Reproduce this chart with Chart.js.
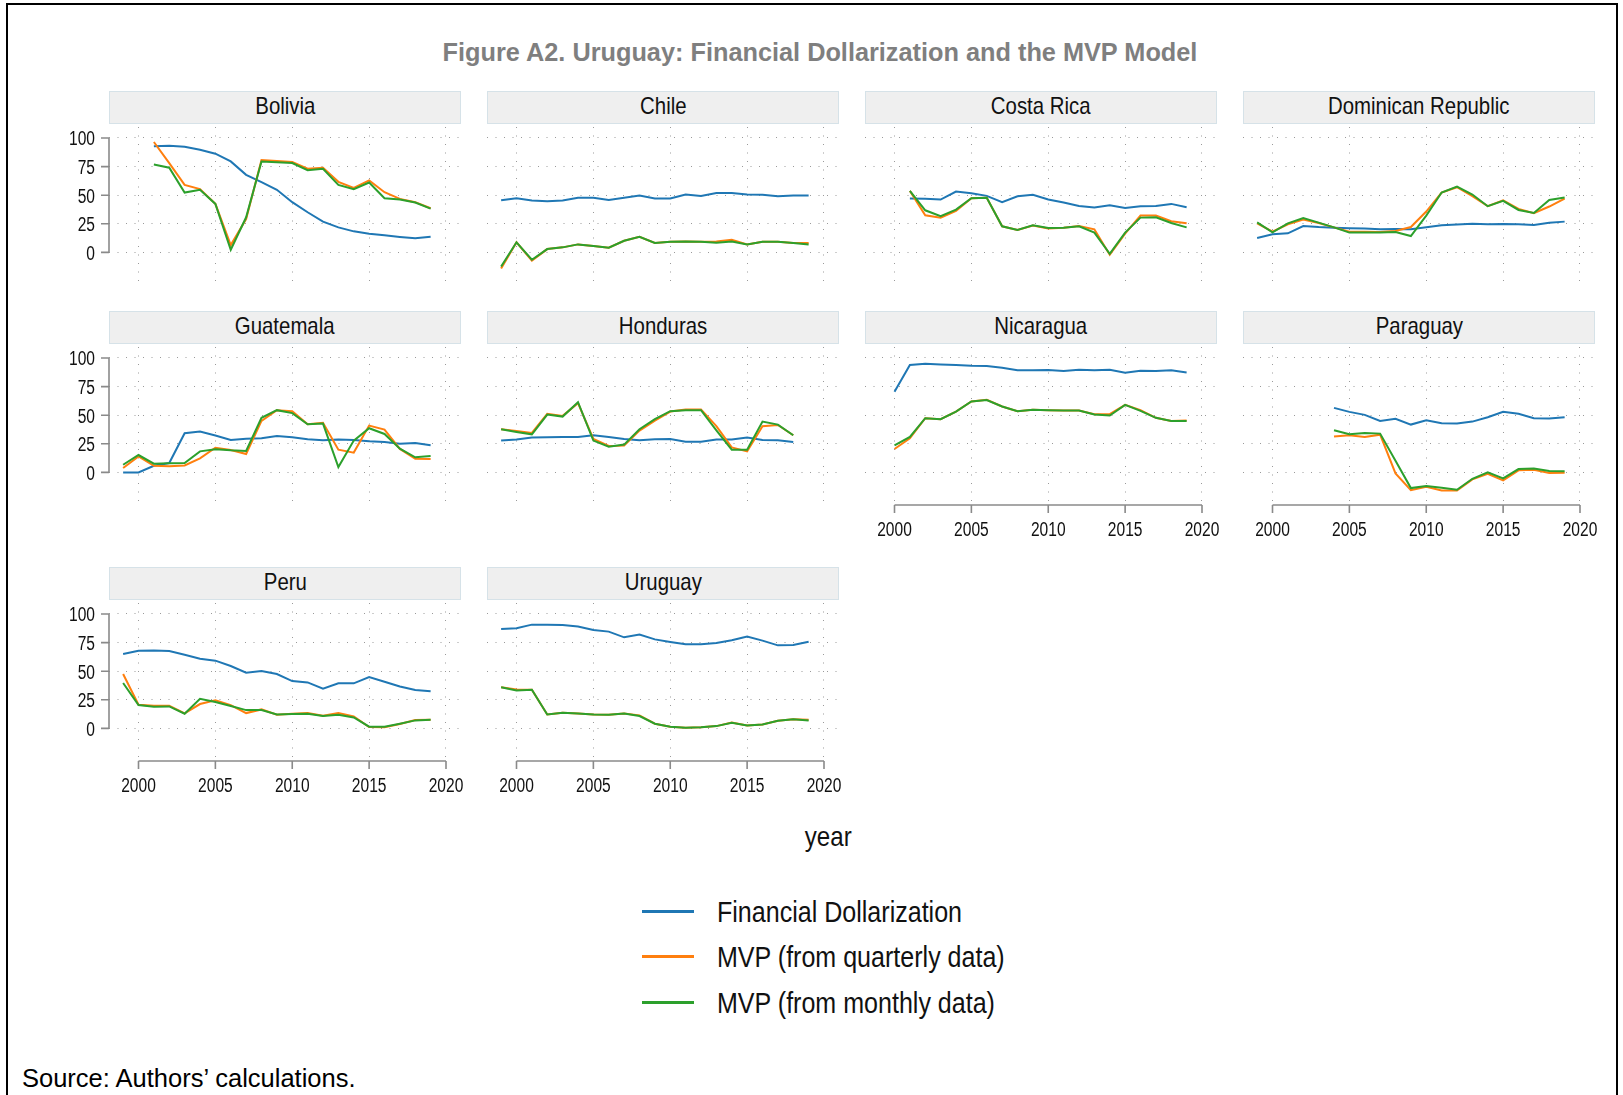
<!DOCTYPE html>
<html>
<head>
<meta charset="utf-8">
<script src="https://cdn.jsdelivr.net/npm/chart.js@4.4.0/dist/chart.umd.min.js"></script>
<style>
  html, body { margin: 0; padding: 0; background: #fff; }
  #page { position: relative; width: 1623px; height: 1095px; overflow: hidden; background: #fff; }
  .frame { position: absolute; left: 6px; top: 3px; width: 1612px; height: 1200px; border: 2px solid #000; box-sizing: border-box; }
  .title { position: absolute; left: 0; width: 1640px; top: 38px; text-align: center;
           font: bold 25.3px 'Liberation Sans', Arial, sans-serif; color: #7f7f7f; white-space: nowrap; }
  .strip { position: absolute; background: #efefef; border: 1px solid #d6e2e8; box-sizing: border-box;
           text-align: center; font: 24px 'Liberation Sans', Arial, sans-serif; color: #111; white-space: nowrap; }
  .strip span { display: inline-block; transform: scaleX(0.85); transform-origin: 50% 50%; }
  canvas.panel { position: absolute; }
  .xtitle { position: absolute; left: 728px; width: 200px; top: 821px; text-align: center;
            font: 28px 'Liberation Sans', Arial, sans-serif; color: #111; }
  .xtitle span { display: inline-block; transform: scaleX(0.86); transform-origin: 50% 50%; }
  .legline { position: absolute; left: 642px; width: 52px; height: 3px; }
  .legtext { position: absolute; left: 717px; font: 30px 'Liberation Sans', Arial, sans-serif; color: #111; white-space: nowrap;
             line-height: 34px; transform: scaleX(0.835); transform-origin: 0 50%; }
  .source { position: absolute; left: 22px; top: 1064px; font: 25.5px 'Liberation Sans', Arial, sans-serif; color: #000; white-space: nowrap; }
</style>
</head>
<body>
<div id="page">
  <div class="frame"></div>
  <div class="title">Figure A2. Uruguay: Financial Dollarization and the MVP Model</div>
  <div class="xtitle"><span>year</span></div>
  <div class="source">Source: Authors’ calculations.</div>
</div>
<script>
// ---------------- DATA ----------------
const countries = ["Bolivia", "Chile", "Costa Rica", "Dominican Republic", "Guatemala",
                   "Honduras", "Nicaragua", "Paraguay", "Peru", "Uruguay"];
const seriesNames = ["Financial Dollarization", "MVP (from quarterly data)", "MVP (from monthly data)"];
const xTickLabels = [2000, 2005, 2010, 2015, 2020];
const yTickLabels = [0, 25, 50, 75, 100];
const startYears = [2001, 1999, 2001, 1999, 1999, 1999, 2000, 2004, 1999, 1999];

const boliviaFD = [92.7, 93.3, 92.4, 89.8, 86.3, 79.5, 67.8, 61.4, 54.7, 43.9, 35.1, 26.9, 21.9, 18.4, 16.4, 14.9, 13.5, 12.3, 13.7];
const boliviaQ  = [96.5, 78.0, 59.0, 55.3, 42.4, 6.4, 29.2, 80.7, 79.8, 79.0, 73.1, 74.0, 61.7, 56.4, 62.9, 52.6, 46.8, 43.9, 38.6];
const boliviaM  = [76.9, 74.0, 52.3, 54.7, 42.4, 2.3, 30.7, 79.5, 78.7, 78.1, 71.9, 73.1, 59.0, 55.3, 61.1, 47.4, 46.2, 43.6, 38.3];

const chileFD = [45.6, 47.4, 45.3, 44.7, 45.3, 47.7, 47.7, 45.9, 47.7, 49.7, 47.1, 47.1, 50.6, 49.4, 52.0, 52.0, 50.6, 50.3, 49.1, 49.7, 49.7];
const chileQ  = [-14.0, 8.8, -7.3, 2.9, 4.4, 7.0, 5.6, 4.1, 10.2, 13.7, 8.2, 9.4, 9.6, 9.4, 9.6, 11.1, 7.0, 9.4, 9.4, 8.2, 8.2];
const chileM  = [-12.3, 8.8, -6.4, 2.9, 4.4, 7.0, 5.6, 4.1, 10.2, 13.7, 8.2, 9.4, 9.6, 9.4, 8.5, 9.6, 7.0, 9.4, 9.4, 8.2, 7.0];

const costaRicaFD = [47.1, 46.8, 46.2, 53.2, 51.8, 49.4, 43.9, 49.1, 50.3, 46.2, 43.6, 40.6, 39.2, 41.2, 38.9, 40.4, 40.6, 42.4, 39.5];
const costaRicaQ  = [53.8, 32.5, 30.4, 36.3, 47.4, 47.7, 22.8, 19.6, 23.4, 21.0, 21.6, 23.1, 20.2, -2.0, 16.4, 32.2, 32.2, 27.2, 25.4];
const costaRicaM  = [53.8, 36.8, 31.6, 37.4, 47.4, 47.7, 22.8, 19.6, 23.7, 21.3, 21.6, 22.8, 17.3, -1.2, 17.3, 30.4, 30.7, 25.7, 21.9];

const dominicanFD = [12.6, 15.8, 16.7, 23.1, 22.2, 21.6, 21.1, 20.8, 20.2, 20.5, 20.2, 21.9, 23.7, 24.3, 25.1, 24.6, 24.9, 24.6, 24.0, 26.0, 26.9];
const dominicanQ  = [25.4, 18.1, 24.6, 28.7, 25.7, 21.9, 18.1, 18.1, 17.8, 18.7, 22.2, 35.7, 52.3, 57.0, 49.1, 40.4, 45.6, 38.0, 34.2, 40.1, 47.1];
const dominicanM  = [26.3, 17.5, 25.4, 30.1, 26.0, 21.9, 17.3, 17.3, 17.3, 17.8, 14.3, 32.2, 52.3, 57.6, 50.6, 40.4, 45.0, 37.1, 34.5, 45.9, 48.0];

const guatemalaFD = [0.0, 0.0, 5.8, 8.2, 34.2, 35.7, 32.2, 28.4, 29.5, 29.8, 31.9, 30.7, 28.9, 28.1, 28.7, 28.4, 27.2, 26.6, 25.1, 25.7, 23.7];
const guatemalaQ  = [3.8, 14.0, 5.8, 5.3, 6.1, 12.3, 21.6, 19.6, 16.1, 45.0, 54.4, 53.5, 42.1, 43.3, 19.9, 17.3, 40.9, 37.4, 20.5, 12.0, 11.7];
const guatemalaM  = [6.7, 15.2, 7.6, 7.9, 8.2, 18.4, 20.2, 19.3, 18.7, 47.7, 54.4, 51.8, 42.1, 42.7, 4.7, 27.8, 38.6, 33.6, 20.8, 13.2, 14.3];

const hondurasFD = [27.8, 28.7, 30.4, 30.7, 31.0, 31.0, 32.5, 31.0, 29.2, 28.1, 28.9, 29.2, 26.9, 26.9, 28.7, 28.7, 30.4, 28.4, 28.1, 26.6];
const hondurasQ  = [37.7, 36.3, 34.5, 51.2, 49.4, 60.5, 29.2, 23.1, 23.4, 36.5, 45.3, 53.2, 55.0, 55.0, 40.4, 21.9, 18.4, 40.4, 41.5, 32.5];
const hondurasM  = [37.7, 35.4, 33.3, 50.6, 48.8, 61.4, 27.8, 22.5, 24.3, 37.7, 46.5, 53.5, 54.4, 54.4, 36.8, 19.9, 19.9, 44.4, 41.8, 32.5];

const nicaraguaFD = [70.5, 93.9, 95.0, 94.4, 93.9, 93.3, 93.0, 91.5, 89.2, 89.2, 89.5, 88.6, 89.8, 89.2, 89.8, 87.1, 88.9, 88.6, 89.2, 87.4];
const nicaraguaQ  = [20.5, 29.8, 47.4, 46.5, 53.2, 62.0, 63.5, 57.6, 53.5, 54.7, 54.4, 54.1, 54.1, 50.9, 50.9, 59.0, 54.4, 47.7, 45.0, 45.3];
const nicaraguaM  = [23.7, 31.0, 47.4, 46.5, 53.2, 62.0, 63.2, 57.6, 53.5, 54.7, 54.4, 54.1, 54.1, 50.6, 49.7, 59.0, 53.8, 47.7, 45.0, 45.0];

const paraguayFD = [56.4, 52.9, 50.3, 45.0, 46.8, 41.8, 45.6, 43.0, 42.7, 44.4, 48.2, 52.9, 51.2, 47.4, 47.1, 48.2];
const paraguayQ  = [31.3, 32.5, 31.0, 33.0, -0.9, -15.5, -12.6, -15.8, -15.8, -6.1, -1.2, -7.0, 1.8, 2.3, -0.6, -0.3];
const paraguayM  = [36.8, 33.3, 34.5, 33.9, 10.2, -13.7, -12.0, -13.5, -15.2, -5.6, 0.0, -5.3, 2.9, 3.5, 1.2, 0.9];

const peruFD = [65.0, 67.9, 68.2, 67.6, 64.4, 60.9, 59.2, 54.5, 48.7, 50.1, 47.5, 41.4, 40.2, 34.7, 39.4, 39.4, 44.9, 40.8, 36.7, 33.5, 32.4];
const peruQ  = [47.5, 20.7, 19.8, 19.8, 13.1, 21.3, 24.5, 20.4, 13.4, 16.6, 12.0, 12.8, 13.4, 11.1, 13.4, 10.5, 1.2, 0.9, 3.8, 7.3, 7.6];
const peruM  = [39.7, 20.4, 19.0, 19.2, 12.8, 25.9, 23.0, 19.5, 16.0, 16.0, 12.2, 12.5, 12.8, 10.8, 12.0, 9.6, 1.5, 1.5, 4.1, 7.0, 7.6];

const uruguayFD = [86.9, 87.5, 90.7, 90.7, 90.4, 89.0, 86.0, 84.6, 79.6, 82.0, 77.8, 75.5, 73.5, 73.5, 74.6, 77.0, 80.2, 76.7, 72.6, 72.9, 75.8];
const uruguayQ  = [35.9, 34.0, 33.8, 12.2, 13.7, 13.1, 12.2, 12.0, 13.1, 11.4, 4.1, 1.5, 0.6, 0.9, 2.0, 5.2, 2.6, 3.5, 6.7, 7.9, 7.6];
const uruguayM  = [35.9, 33.2, 33.8, 12.2, 13.7, 13.1, 12.2, 12.0, 13.1, 10.8, 4.1, 1.5, 0.6, 0.9, 2.0, 5.0, 2.6, 3.5, 6.7, 7.9, 7.0];

const fdSeries = [boliviaFD, chileFD, costaRicaFD, dominicanFD, guatemalaFD, hondurasFD, nicaraguaFD, paraguayFD, peruFD, uruguayFD];
const qSeries  = [boliviaQ, chileQ, costaRicaQ, dominicanQ, guatemalaQ, hondurasQ, nicaraguaQ, paraguayQ, peruQ, uruguayQ];
const mSeries  = [boliviaM, chileM, costaRicaM, dominicanM, guatemalaM, hondurasM, nicaraguaM, paraguayM, peruM, uruguayM];

// ---------------- STYLE / LAYOUT ----------------
const COLORS = ["#1f77b4", "#ff7f0e", "#2ca02c"];
const GRID_COLOR = "#9a9a9a";
const AXIS_COLOR = "#8a8a8a";
const COL_L = [109, 487, 865, 1243];
const ROW_Y100 = [138, 358, 614];
const PX_YEAR = 15.375, PX_UNIT = 1.144;
const PLOT_W = 352, PLOT_H = 158, LEFT_PAD = 60, RIGHT_PAD = 25, TOP_PAD = 15, XAX_H = 45;
const X_MIN = 2000 - 29.5 / PX_YEAR, X_MAX = X_MIN + PLOT_W / PX_YEAR;
const Y_MAX = 100 + 11 / PX_UNIT, Y_MIN = Y_MAX - PLOT_H / PX_UNIT;
const TICK_SIZE = 20.5, TICK_SX = 0.76;
const TICK_FONT = TICK_SIZE + "px 'Liberation Sans', Arial, sans-serif";

// Stata-like axes: line over the labelled range, outward tick marks, condensed labels
const axisPlugin = {
  id: 'stataAxes',
  afterDraw(chart, args, opts) {
    const ctx = chart.ctx, xs = chart.scales.x, ys = chart.scales.y, area = chart.chartArea;
    ctx.save();
    ctx.strokeStyle = AXIS_COLOR;
    ctx.lineWidth = 1.6;
    ctx.setLineDash([]);
    ctx.beginPath();
    if (opts.y) {
      const x0 = area.left;
      ctx.moveTo(x0, ys.getPixelForValue(yTickLabels[0]));
      ctx.lineTo(x0, ys.getPixelForValue(yTickLabels[yTickLabels.length - 1]));
      yTickLabels.forEach(v => { const p = ys.getPixelForValue(v); ctx.moveTo(x0, p); ctx.lineTo(x0 - 8, p); });
    }
    if (opts.x) {
      const y0 = area.bottom;
      ctx.moveTo(xs.getPixelForValue(xTickLabels[0]), y0);
      ctx.lineTo(xs.getPixelForValue(xTickLabels[xTickLabels.length - 1]), y0);
      xTickLabels.forEach(v => { const p = xs.getPixelForValue(v); ctx.moveTo(p, y0); ctx.lineTo(p, y0 + 8); });
    }
    ctx.stroke();

    ctx.fillStyle = '#111';
    ctx.font = TICK_FONT;
    ctx.textBaseline = 'alphabetic';
    const capMid = 0.358 * TICK_SIZE;
    if (opts.y) {
      ctx.textAlign = 'right';
      ys.ticks.forEach(t => {
        const p = ys.getPixelForValue(t.value);
        ctx.save();
        ctx.translate(area.left - 14, p + capMid);
        ctx.scale(TICK_SX, 1);
        ctx.fillText(String(t.value), 0, 0);
        ctx.restore();
      });
    }
    if (opts.x) {
      ctx.textAlign = 'center';
      xs.ticks.forEach(t => {
        const p = xs.getPixelForValue(t.value);
        ctx.save();
        ctx.translate(p, area.bottom + 23.5 + capMid);
        ctx.scale(TICK_SX, 1);
        ctx.fillText(String(t.value), 0, 0);
        ctx.restore();
      });
    }
    ctx.restore();
  }
};

function toXY(start, vals) { return vals.map((v, i) => ({ x: start + i, y: v })); }

const page = document.getElementById('page');
const panelCol = [0, 1, 2, 3, 0, 1, 2, 3, 0, 1];
const panelRow = [0, 0, 0, 0, 1, 1, 1, 1, 2, 2];
const withX = [false, false, false, false, false, false, true, true, true, true];

countries.forEach((name, i) => {
  const L = COL_L[panelCol[i]], y100 = ROW_Y100[panelRow[i]];
  const strip = document.createElement('div');
  strip.className = 'strip';
  strip.style.left = L + 'px';
  strip.style.top = (y100 - 47) + 'px';
  strip.style.width = '352px';
  strip.style.height = '33px';
  strip.style.lineHeight = '28px';
  const sp = document.createElement('span');
  sp.textContent = name;
  strip.appendChild(sp);
  page.appendChild(strip);

  const cv = document.createElement('canvas');
  cv.className = 'panel';
  const W = LEFT_PAD + PLOT_W + RIGHT_PAD, H = TOP_PAD + PLOT_H + XAX_H;
  cv.width = W; cv.height = H;
  cv.style.width = W + 'px'; cv.style.height = H + 'px';
  cv.style.left = (L - LEFT_PAD) + 'px';
  cv.style.top = (y100 - 11 - TOP_PAD) + 'px';
  page.appendChild(cv);

  const showY = panelCol[i] === 0, showX = withX[i];
  const start = startYears[i];
  new Chart(cv, {
    type: 'line',
    data: {
      datasets: [
        { label: seriesNames[2], data: toXY(start, mSeries[i]), borderColor: COLORS[2], order: 1 },
        { label: seriesNames[1], data: toXY(start, qSeries[i]), borderColor: COLORS[1], order: 2 },
        { label: seriesNames[0], data: toXY(start, fdSeries[i]), borderColor: COLORS[0], order: 3 }
      ]
    },
    options: {
      responsive: false, animation: false, devicePixelRatio: 1,
      layout: { padding: { top: TOP_PAD, right: RIGHT_PAD, left: 0, bottom: 0 } },
      elements: { point: { radius: 0 }, line: { borderWidth: 2, tension: 0, fill: false } },
      plugins: { legend: { display: false }, tooltip: { enabled: false }, stataAxes: { x: showX, y: showY } },
      scales: {
        x: {
          type: 'linear', min: X_MIN, max: X_MAX,
          afterBuildTicks: s => { s.ticks = xTickLabels.map(v => ({ value: v })); },
          afterFit: s => { s.height = XAX_H; },
          grid: { color: GRID_COLOR, lineWidth: 1, drawTicks: false },
          border: { display: false, dash: [1, 7.5] },
          ticks: { display: false }
        },
        y: {
          type: 'linear', min: Y_MIN, max: Y_MAX,
          afterBuildTicks: s => { s.ticks = yTickLabels.map(v => ({ value: v })); },
          afterFit: s => { s.width = LEFT_PAD; },
          grid: { color: GRID_COLOR, lineWidth: 1, drawTicks: false },
          border: { display: false, dash: [1, 7.5] },
          ticks: { display: false }
        }
      }
    },
    plugins: [axisPlugin]
  });
});

// legend
const legendY = [911, 956, 1002];
seriesNames.forEach((nm, k) => {
  const ln = document.createElement('div');
  ln.className = 'legline';
  ln.style.top = (legendY[k] - 1.5) + 'px';
  ln.style.background = COLORS[k];
  page.appendChild(ln);
  const tx = document.createElement('div');
  tx.className = 'legtext';
  tx.style.top = (legendY[k] - 16) + 'px';
  tx.textContent = nm;
  page.appendChild(tx);
});
</script>
</body>
</html>
